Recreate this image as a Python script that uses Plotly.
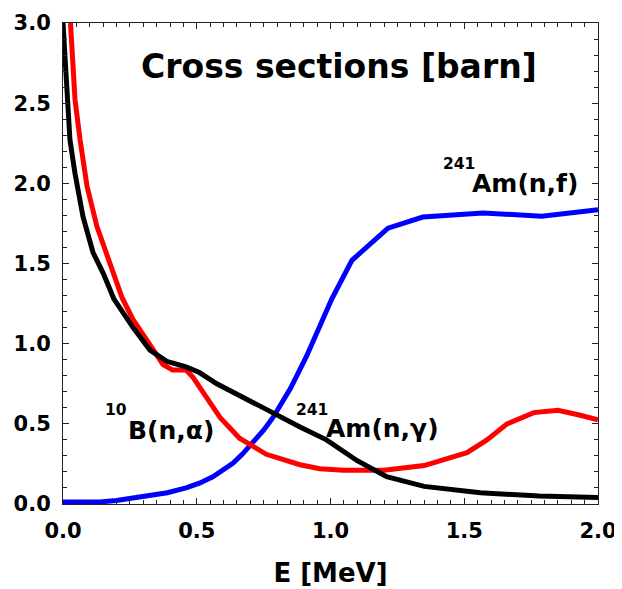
import plotly.graph_objects as go

# black curve
black_x = [0.0, 0.008, 0.015, 0.026, 0.045, 0.075, 0.112, 0.15, 0.19, 0.262, 0.325, 0.388, 0.46, 0.51,
           0.575, 0.636, 0.76, 0.886, 0.985, 1.10, 1.21, 1.35, 1.56, 1.78, 2.0]
black_y = [3.0, 2.75, 2.52, 2.27, 2.06, 1.79, 1.57, 1.44, 1.28, 1.10, 0.96, 0.89, 0.855, 0.82,
           0.75, 0.70, 0.59, 0.48, 0.40, 0.27, 0.17, 0.11, 0.07, 0.05, 0.04]

# red curve
red_x = [0.028, 0.045, 0.064, 0.09, 0.127, 0.176, 0.22, 0.262, 0.325, 0.374, 0.41, 0.46, 0.486,
         0.535, 0.587, 0.66, 0.76, 0.886, 0.96, 1.05, 1.20, 1.35, 1.51, 1.585, 1.66, 1.76,
         1.85, 1.93, 2.0]
red_y = [3.0, 2.52, 2.27, 1.98, 1.73, 1.50, 1.29, 1.15, 1.00, 0.87, 0.835, 0.835, 0.79,
         0.67, 0.54, 0.41, 0.31, 0.245, 0.22, 0.21, 0.21, 0.24, 0.32, 0.40, 0.50, 0.57,
         0.585, 0.555, 0.525]

# blue curve
blue_x = [0.0, 0.07, 0.138, 0.2, 0.26, 0.33, 0.39, 0.46, 0.51, 0.56, 0.60, 0.636, 0.67, 0.71,
          0.75, 0.785, 0.85, 0.91, 0.96, 1.005, 1.08, 1.215, 1.345, 1.57, 1.79, 2.0]
blue_y = [0.012, 0.01, 0.013, 0.022, 0.037, 0.052, 0.07, 0.10, 0.13, 0.17, 0.21, 0.255, 0.31, 0.38,
          0.46, 0.54, 0.72, 0.92, 1.12, 1.28, 1.52, 1.72, 1.79, 1.815, 1.795, 1.835]

x_ticks = [0.0, 0.5, 1.0, 1.5, 2.0]
y_ticks = [0.0, 0.5, 1.0, 1.5, 2.0, 2.5, 3.0]

FONT = "DejaVu Sans"
BLACK = "black"
LW = 5

fig = go.Figure()
fig.add_trace(go.Scatter(x=blue_x, y=blue_y, mode="lines",
                         line=dict(color="#0000ff", width=LW), showlegend=False))
fig.add_trace(go.Scatter(x=red_x, y=red_y, mode="lines",
                         line=dict(color="#ff0000", width=LW), showlegend=False))
fig.add_trace(go.Scatter(x=black_x, y=black_y, mode="lines",
                         line=dict(color="#000000", width=LW), showlegend=False))

axis_common = dict(
    showline=True, linecolor="#222222", linewidth=1, mirror="ticks",
    ticks="inside", ticklen=6, tickwidth=1, tickcolor="#222222",
    showgrid=False, zeroline=False, automargin=False,
    tickfont=dict(family=FONT, size=21, color=BLACK, weight="bold"),
    tickformat=".1f",
)

fig.update_xaxes(range=[0, 2], tickvals=x_ticks, ticklabelstandoff=8,
                 minor=dict(dtick=0.05, ticks="inside", ticklen=4, tickcolor="#222222"),
                 title=dict(text="E [MeV]", font=dict(family=FONT, size=26, color=BLACK, weight="bold"),
                            standoff=21),
                 **axis_common)
fig.update_yaxes(range=[0, 3], tickvals=y_ticks, ticklabelstandoff=7,
                 minor=dict(dtick=0.1, ticks="inside", ticklen=4, tickcolor="#222222"),
                 **axis_common)

main_font = dict(family=FONT, size=25, color=BLACK, weight="bold")
sup_font = dict(family=FONT, size=15.5, color=BLACK, weight="bold")

fig.add_annotation(x=1.03, y=2.73, xref="x", yref="y", text="Cross sections [barn]",
                   showarrow=False, font=dict(family=FONT, size=33, color=BLACK, weight="bold"))

# 10B(n,alpha)
fig.add_annotation(x=0.150, y=0.589, xref="x", yref="y", xanchor="left", yanchor="middle",
                   text="10", showarrow=False, font=sup_font)
fig.add_annotation(x=0.236, y=0.46, xref="x", yref="y", xanchor="left", yanchor="middle",
                   text="B(n,α)", showarrow=False, font=main_font)
# 241Am(n,gamma)
fig.add_annotation(x=0.862, y=0.586, xref="x", yref="y", xanchor="left", yanchor="middle",
                   text="241", showarrow=False, font=sup_font)
fig.add_annotation(x=0.975, y=0.474, xref="x", yref="y", xanchor="left", yanchor="middle",
                   text="Am(n,γ)", showarrow=False, font=main_font)
# 241Am(n,f)
fig.add_annotation(x=1.414, y=2.12, xref="x", yref="y", xanchor="left", yanchor="middle",
                   text="241", showarrow=False, font=sup_font)
fig.add_annotation(x=1.523, y=1.996, xref="x", yref="y", xanchor="left", yanchor="middle",
                   text="Am(n,f)", showarrow=False, font=main_font)

# the page body adds an 8px margin, so the figure is 8px smaller and margins shifted
fig.update_layout(
    width=614, height=581,
    margin=dict(l=55, r=24, t=15, b=85),
    plot_bgcolor="white", paper_bgcolor="white",
)

fig.write_html("out.html")
